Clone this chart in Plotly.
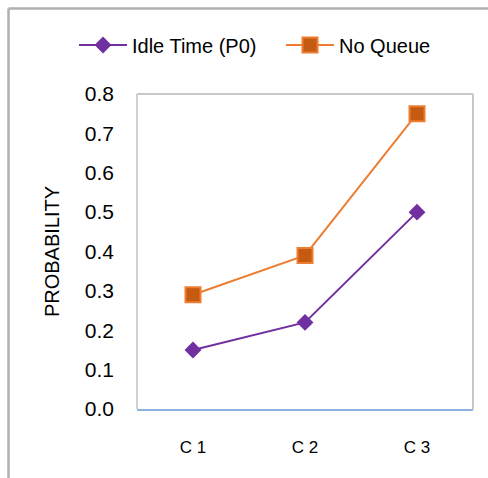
import plotly.graph_objects as go

categories = ["C 1", "C 2", "C 3"]
idle_time = [0.15, 0.22, 0.50]
no_queue = [0.29, 0.39, 0.75]
y_ticks = [0.0, 0.1, 0.2, 0.3, 0.4, 0.5, 0.6, 0.7, 0.8]
y_tick_labels = ["0.0", "0.1", "0.2", "0.3", "0.4", "0.5", "0.6", "0.7", "0.8"]

W, H = 488, 478
L, R, T, B = 137, 15, 94, 69
pw, ph = W - L - R, H - T - B

def px_x(x):
    return (x - L) / pw

def px_y(y):
    return (H - B - y) / ph

fig = go.Figure()
fig.add_trace(go.Scatter(
    x=categories, y=idle_time, name="Idle Time (P0)", mode="lines+markers",
    line=dict(color="#7030a0", width=2),
    marker=dict(symbol="diamond", size=13, color="#7030a0", line=dict(width=0)),
))
fig.add_trace(go.Scatter(
    x=categories, y=no_queue, name="No Queue", mode="lines+markers",
    line=dict(color="#ed7d31", width=2),
    marker=dict(symbol="square", size=15, color="#c55a11", line=dict(color="#ed7d31", width=2)),
))

font_family = "Liberation Sans, Arial, sans-serif"

fig.update_layout(
    width=W, height=H,
    margin=dict(l=L, r=R, t=T, b=B, pad=0),
    paper_bgcolor="white", plot_bgcolor="white",
    font=dict(family=font_family, color="#000000", size=19),
    showlegend=True,
    legend=dict(
        orientation="h", x=px_x(91), y=px_y(45), xanchor="left", yanchor="middle",
        font=dict(size=20), itemwidth=48, entrywidth=144, bgcolor="rgba(0,0,0,0)",
        traceorder="normal",
    ),
    xaxis=dict(
        type="category", range=[-0.5, 2.5], showgrid=False, zeroline=False,
        showline=True, linecolor="#8db3e2", linewidth=2,
        ticks="", tickfont=dict(size=17), ticklabelstandoff=22,
        fixedrange=True,
    ),
    yaxis=dict(
        range=[0, 0.8], tickvals=y_ticks, ticktext=y_tick_labels,
        showgrid=False, zeroline=False, showline=False,
        ticks="", tickfont=dict(size=21), ticklabelstandoff=22,
        title=dict(text="PROBABILITY", font=dict(size=20), standoff=19),
        fixedrange=True,
    ),
    shapes=[
        dict(type="line", xref="paper", yref="paper", x0=0, x1=0, y0=0, y1=1,
             line=dict(color="#d0d0d0", width=2), layer="below"),
        dict(type="line", xref="paper", yref="paper", x0=0, x1=1, y0=1, y1=1,
             line=dict(color="#c8c8c8", width=2), layer="below"),
        dict(type="line", xref="paper", yref="paper", x0=1, x1=1, y0=0, y1=1,
             line=dict(color="#c8c8c8", width=2), layer="below"),
        dict(type="line", xref="paper", yref="paper", x0=px_x(8.5), x1=px_x(495),
             y0=px_y(8.5), y1=px_y(8.5), line=dict(color="#b0b0b0", width=2.5)),
        dict(type="line", xref="paper", yref="paper", x0=px_x(8.5), x1=px_x(8.5),
             y0=px_y(8.5), y1=px_y(490), line=dict(color="#b0b0b0", width=2.5)),
    ],
)

fig.write_html("out.html")
